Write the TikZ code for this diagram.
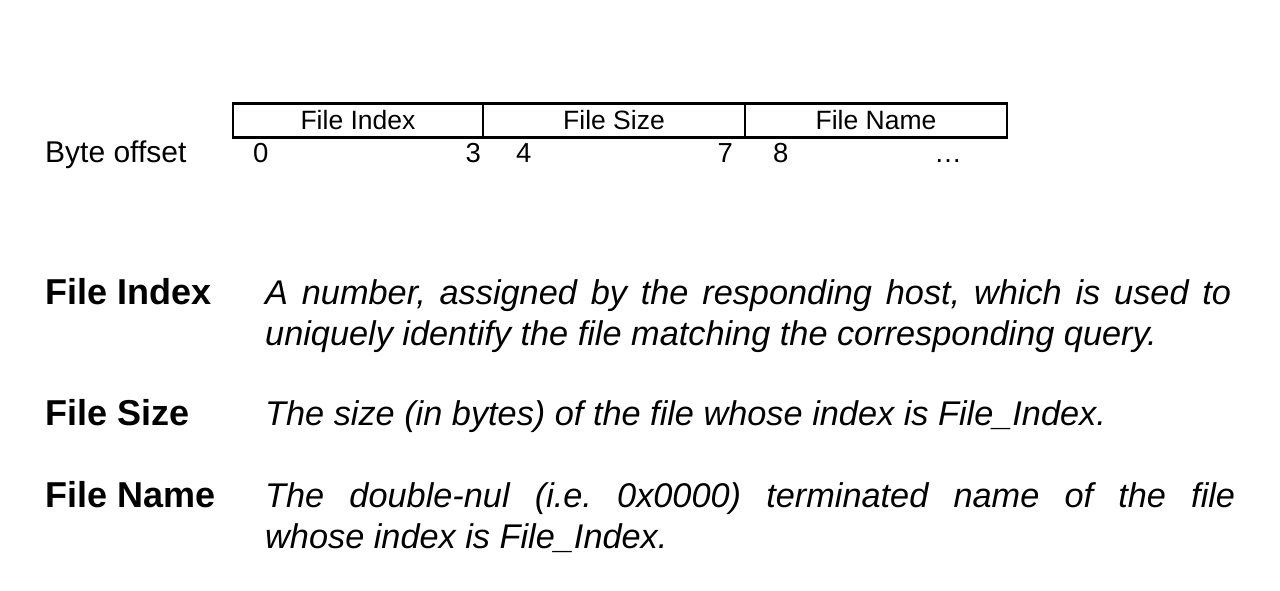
\documentclass[tikz,border=0pt]{standalone}
\usepackage{fontspec}
\setmainfont{Liberation Sans}
\frenchspacing
\begin{document}
\begin{tikzpicture}[x=1pt,y=-1pt,
  field/.style={draw,line width=2.2pt,minimum height=34pt,inner sep=0pt,
    font=\fontsize{26.5}{30}\selectfont},
  offset/.style={inner sep=0pt,font=\fontsize{27.5}{30}\selectfont},
  term/.style={inner sep=0pt,anchor=base west,font=\fontsize{36}{41}\selectfont\bfseries},
  desc/.style={inner sep=0pt,anchor=base west,font=\fontsize{34.3}{41}\selectfont\itshape}
]
\useasboundingbox (0,0) rectangle (1280,591);

% record layout
\node[field,minimum width=250pt] (fidx)  at (358,120.5) {File Index};
\node[field,minimum width=262pt] (fsize) at (614,120.5) {File Size};
\node[field,minimum width=262pt] (fname) at (876,120.5) {File Name};

% byte offsets
\node[inner sep=0pt,anchor=base west,font=\fontsize{30}{33}\selectfont] (blab) at (45,163) {Byte offset};
\node[offset,anchor=base west] (o0) at (253,163) {0};
\node[offset,anchor=base east] (o3) at (481,163) {3};
\node[offset,anchor=base west] (o4) at (516,163) {4};
\node[offset,anchor=base east] (o7) at (733,163) {7};
\node[offset,anchor=base west] (o8) at (773,163) {8};
\node[offset,anchor=base] (oend) at (948,163) {…};

% field descriptions
\node[term] (tidx) at (45,304) {File Index};
\node[desc] (didx) at (265,304) {\parbox[t]{966pt}{\makebox[966pt][s]{A number, assigned by the responding host, which is used to}\\uniquely identify the file matching the corresponding query.}};

\node[term] (tsize) at (45,425) {File Size};
\node[desc] (dsize) at (265,425) {The size (in bytes) of the file whose index is File\_Index.};

\node[term] (tname) at (45,507) {File Name};
\node[desc] (dname) at (265,507) {\parbox[t]{970pt}{\makebox[970pt][s]{The double-nul (i.e. 0x0000) terminated name of the file}\\whose index is File\_Index.}};
\end{tikzpicture}
\end{document}
